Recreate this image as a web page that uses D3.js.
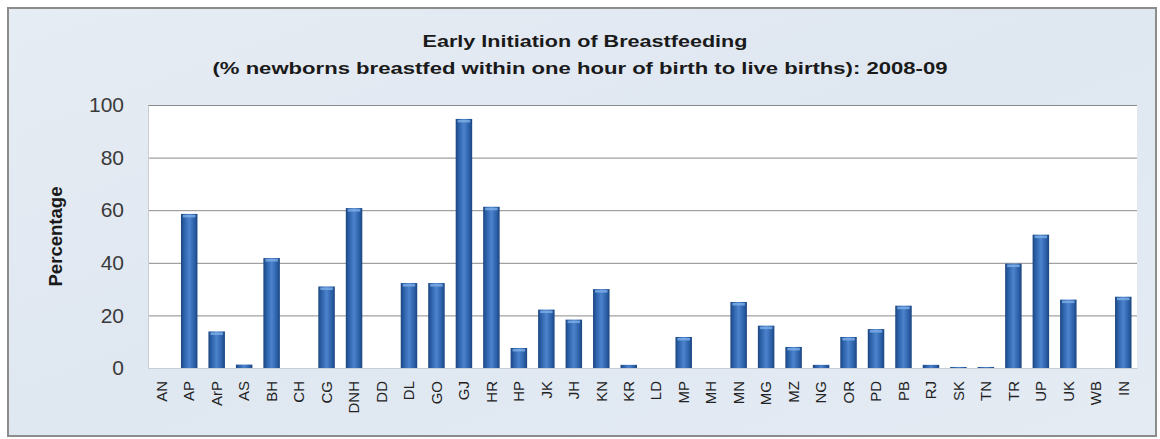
<!DOCTYPE html>
<html>
<head>
<meta charset="utf-8">
<script src="https://cdn.jsdelivr.net/npm/d3@7"></script>
<style>
  html, body { margin: 0; padding: 0; background: #ffffff; }
  svg { display: block; }
</style>
</head>
<body>
<svg id="chart" width="1160" height="439"></svg>
<script>
const categories = ["AN","AP","ArP","AS","BH","CH","CG","DNH","DD","DL","GO","GJ","HR","HP","JK","JH","KN","KR","LD","MP","MH","MN","MG","MZ","NG","OR","PD","PB","RJ","SK","TN","TR","UP","UK","WB","IN"];
const values = [0,58.6,13.9,1.3,41.8,0,31.0,60.8,0,32.3,32.3,94.7,61.3,7.6,22.2,18.4,30.0,1.2,0,11.8,0,25.1,16.1,8.0,1.2,11.8,14.8,23.7,1.2,0.4,0.4,39.7,50.7,26.0,0,27.1];
const yTicks = [0,20,40,60,80,100];
const titleLines = ["Early Initiation of Breastfeeding","(% newborns breastfed within one hour of birth to live births): 2008-09"];
const yLabel = "Percentage";

const svg = d3.select("#chart");
const defs = svg.append("defs");

const bg = defs.append("linearGradient").attr("id","bgGrad").attr("x1","0").attr("y1","0").attr("x2","1").attr("y2","1");
bg.append("stop").attr("offset","0%").attr("stop-color","#e6ecf3");
bg.append("stop").attr("offset","50%").attr("stop-color","#dfe7f1");
bg.append("stop").attr("offset","100%").attr("stop-color","#e4ebf3");

const barG = defs.append("linearGradient").attr("id","barGrad").attr("x1","0").attr("y1","0").attr("x2","1").attr("y2","0");
[["0%","#1b4580"],["20%","#2d62aa"],["50%","#4c83cc"],["80%","#2d62aa"],["100%","#1b4580"]]
  .forEach(([o,c]) => barG.append("stop").attr("offset",o).attr("stop-color",c));

// outer frame
svg.append("rect").attr("x",8).attr("y",8).attr("width",1148).attr("height",428)
  .attr("fill","url(#bgGrad)").attr("stroke","#8c8c8c").attr("stroke-width",2);

const plot = {left:148, right:1137, top:105, bottom:368};

const x = d3.scaleBand().domain(categories).range([plot.left, plot.right]).paddingInner(0.4).paddingOuter(0.2);
const y = d3.scaleLinear().domain([0,100]).range([plot.bottom, plot.top]);

// plot area
svg.append("rect").attr("x",plot.left).attr("y",plot.top)
  .attr("width",plot.right-plot.left).attr("height",plot.bottom-plot.top).attr("fill","#ffffff");

// gridlines
svg.append("g").selectAll("line").data(yTicks.filter(d => d>0)).join("line")
  .attr("x1",plot.left).attr("x2",plot.right)
  .attr("y1",d => y(d)+0.5).attr("y2",d => y(d)+0.5)
  .attr("stroke","#8a8a8a").attr("stroke-width",1);

// y axis
const yAxis = d3.axisLeft(y).tickValues(yTicks).tickSize(0).tickPadding(24);
const yg = svg.append("g").attr("transform",`translate(${plot.left},0)`).call(yAxis);
yg.select(".domain").attr("stroke","#c8cdd3");
yg.selectAll("text").attr("font-family","Liberation Sans, Arial, sans-serif").attr("font-size",21).attr("fill","#3a3a3a");

// x axis
const xAxis = d3.axisBottom(x).tickSize(0).tickPadding(0);
const xg = svg.append("g").attr("transform",`translate(0,${plot.bottom})`).call(xAxis);
xg.select(".domain").attr("stroke","#c8cdd3");
xg.selectAll("text")
  .attr("font-family","Liberation Sans, Arial, sans-serif").attr("font-size",15).attr("fill","#222")
  .attr("transform","rotate(-90)")
  .attr("text-anchor","end")
  .attr("dy","0.35em")
  .attr("x",-13).attr("y",0);

// bars
const bw = x.bandwidth();
svg.append("g").selectAll("rect").data(values.map((v,i)=>({c:categories[i],v}))).join("rect")
  .attr("x",d => x(d.c)).attr("width",bw)
  .attr("y",d => y(d.v)).attr("height",d => y(0)-y(d.v))
  .attr("fill","url(#barGrad)");
// top highlight
svg.append("g").selectAll("rect").data(values.map((v,i)=>({c:categories[i],v})).filter(d=>d.v>3)).join("rect")
  .attr("x",d => x(d.c)+2).attr("width",bw-4)
  .attr("y",d => y(d.v)+1).attr("height",2.5)
  .attr("fill","#7fb0ea").attr("opacity",0.8);

// title
svg.append("text").attr("x",585).attr("y",47).attr("text-anchor","middle")
  .attr("font-family","Liberation Sans, Arial, sans-serif").attr("font-weight","bold").attr("font-size",17)
  .attr("fill","#1a1a1a").attr("textLength",325).attr("lengthAdjust","spacingAndGlyphs").text(titleLines[0]);
svg.append("text").attr("x",580).attr("y",74).attr("text-anchor","middle")
  .attr("font-family","Liberation Sans, Arial, sans-serif").attr("font-weight","bold").attr("font-size",17)
  .attr("fill","#1a1a1a").attr("textLength",735).attr("lengthAdjust","spacingAndGlyphs").text(titleLines[1]);

// y label
svg.append("text").attr("transform",`translate(62,${(plot.top+plot.bottom)/2}) rotate(-90)`)
  .attr("text-anchor","middle")
  .attr("font-family","Liberation Sans, Arial, sans-serif").attr("font-weight","bold").attr("font-size",18)
  .attr("fill","#1a1a1a").attr("textLength",100).attr("lengthAdjust","spacingAndGlyphs").text(yLabel);
</script>
</body>
</html>
